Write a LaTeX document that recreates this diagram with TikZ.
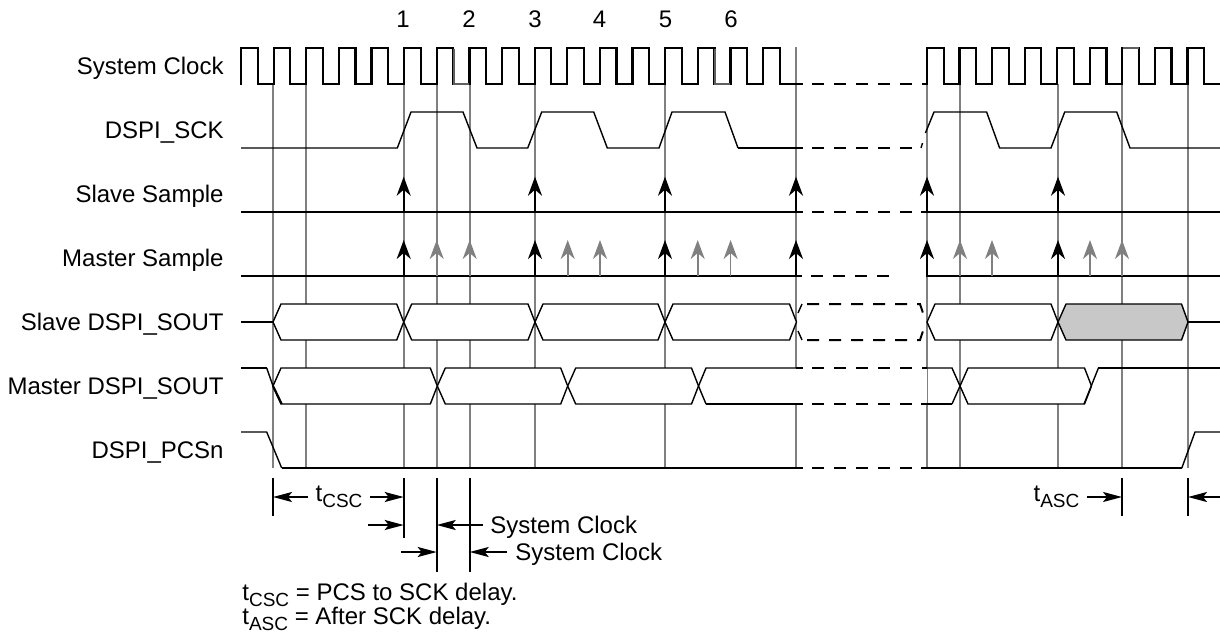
\documentclass[tikz,border=0pt]{standalone}
\usepackage{fontspec}
\setmainfont{Liberation Sans}
\usetikzlibrary{arrows.meta,positioning}
\newcommand{\tsub}[1]{t\raisebox{-3pt}{\fontsize{9.5}{9.5}\selectfont #1}}
\definecolor{gridgray}{RGB}{128,128,128}
\definecolor{edgegray}{RGB}{95,95,95}
\definecolor{hexgray}{RGB}{200,200,200}

\begin{document}
\begin{tikzpicture}[
    x=0.5pt, y=-0.5pt,
    font=\fontsize{12}{14}\selectfont,
    wave/.style={line width=1.1pt},
    wavethin/.style={line width=0.7pt},
    wavedash/.style={line width=1.1pt, dash pattern=on 6pt off 5pt},
    gridline/.style={draw=gridgray, line width=1pt},
    greypart/.style={draw=edgegray, line width=1.1pt},
    hexbox/.style={draw, fill=white, line width=0.7pt, line join=round},
    sigblack/.style={-{Stealth[length=9.5pt,width=7pt,inset=3pt]}, line width=1.1pt},
    siggray/.style={-{Stealth[length=9.5pt,width=7pt,inset=3pt]}, draw=gridgray, fill=gridgray, line width=0.8pt},
    tickline/.style={line width=1pt},
    dimarrow/.style={-{Stealth[length=9.5pt,width=5pt,inset=2pt]}, line width=1pt},
    lbl/.style={anchor=base east, inner sep=0pt},
    num/.style={anchor=base, inner sep=0pt},
    txt/.style={anchor=base west, inner sep=0pt},
    dimtxt/.style={inner sep=3.5pt}
]
\useasboundingbox (0,0) rectangle (1220,633);

\foreach \x in {273,306,403.7,436.7,469.7,535,665,960,1058,1188}
  \draw[gridline] (\x,84) -- (\x,468);
\draw[gridline] (796,47) -- (796,468);
\draw[gridline] (927,47) -- (927,468);
\draw[gridline] (1122,47) -- (1122,468);

\node[lbl] (lclk) at (224,74) {System Clock};
\node[lbl] (lsck) at (224,138) {DSPI\_SCK};
\node[lbl] (lss) at (224,202) {Slave Sample};
\node[lbl] (lms) at (224,266) {Master Sample};
\node[lbl] (lso) at (224,330) {Slave DSPI\_SOUT};
\node[lbl] (lmo) at (224,394) {Master DSPI\_SOUT};
\node[lbl] (lpcs) at (224,458) {DSPI\_PCSn};

\foreach \i/\x in {1/403,2/469,3/535,4/599.5,5/665.5,6/731}
  \node[num] (n\i) at (\x,27) {\i};

\foreach \k in {0,...,16}
  \draw[wave] ({241+32.63*\k},84.5) -- ++(0,-36.5) -- ++(16.6,0) -- ++(0,36) -- ++(16.03,0);
\draw[wave] (796,84) -- (803,84);
\draw[wavedash] (812,84) -- (927,84);
\foreach \k in {0,...,8}
  \draw[wave] ({927+32.56*\k},84.5) -- ++(0,-36.5) -- ++(16.6,0) -- ++(0,36) -- ++(15.96,0);
\draw[greypart] (453.8,48.5) -- (453.8,84) -- (469,84);
\draw[greypart] (714.7,48.5) -- (714.7,84) -- (730,84);
\draw[greypart] (1122.5,48) -- (1139,48);

\draw[wavethin] (241,148) -- (397.3,148) -- (411,112) -- (463,112) -- (477,148) -- (527.7,148) -- (541.7,112) -- (593.7,112) -- (607.3,148) -- (659,148) -- (672,112) -- (725,112) -- (738,148);
\draw[wave] (738,148) -- (803,148);
\draw[wavedash] (812,148) -- (921,148);
\draw[wavethin] (921,148) -- (922.5,143);
\draw[wavethin] (925.4,133) -- (934,112) -- (986.6,112) -- (999.6,148) -- (1051,148) -- (1064.7,112) -- (1116.7,112) -- (1130,148) -- (1220,148);

\draw[wave] (241,212) -- (803,212);
\draw[wavedash] (812,212) -- (921,212);
\draw[wave] (921,212) -- (1220,212);
\foreach \x in {403.7,535,665,796,927,1058}
  \draw[sigblack] (\x,212) -- (\x,176.7);

\draw[wave] (241,276) -- (802,276);
\draw[wavedash] (811,276) -- (896,276);
\draw[wave] (926.5,276) -- (1220,276);
\foreach \x in {403.7,535,665,796,927,1058}
  \draw[sigblack] (\x,276.5) -- (\x,240);
\foreach \x in {436.7,469.7,567.7,600,697.7,730.6,960,992,1090,1122}
  \draw[siggray] (\x,276) -- (\x,240);

\draw[wave] (241,322) -- (273,322);
\foreach \a/\b in {273/403.7,403.7/535,535/665,665/796.5,927/1058}
  \draw[hexbox] (\a,322) -- (\a+8,304) -- (\b-7,304) -- (\b,322) -- (\b-7,340) -- (\a+8,340) -- cycle;
\fill[white] (798,322) -- (804,304) -- (920,304) -- (926,322) -- (920,340) -- (804,340) -- cycle;
\draw[line width=1pt, dash pattern=on 6pt off 5pt] (807,304) -- (920,304) -- (926,322);
\draw[line width=1pt, dash pattern=on 6pt off 5pt] (807,340) -- (920,340) -- (926,322);
\draw[wavethin] (802,304) -- (798,313);
\draw[wavethin] (802,340) -- (798,331);
\draw[hexbox, fill=hexgray] (1058,322) -- (1066,304) -- (1181.5,304) -- (1188,322) -- (1181.5,340) -- (1066,340) -- cycle;
\draw[wave] (1188,322) -- (1220,322);

\fill[white] (698,368) rectangle (952,404);
\draw[gridgray, line width=0.2pt] (927,368) -- (927,404);
\draw[wave] (241,368) -- (266.7,368);
\draw[wavethin] (266.7,368) -- (273,386);
\foreach \a/\b in {273/437.3,437.3/567.7,567.7/698.5,960/1091.5}
  \draw[hexbox] (\a,386) -- (\a+8,368) -- (\b-7,368) -- (\b,386) -- (\b-7,404) -- (\a+8,404) -- cycle;
\draw[wave] (273,386) -- (281.7,404);
\draw[wavethin] (698.5,386) -- (706,368) -- (796,368);
\draw[wave] (796,368) -- (803,368);
\draw[wavedash] (812,368) -- (927,368);
\draw[wavethin] (927,368) -- (952,368) -- (960,386);
\draw[wavethin] (698.5,386) -- (706,404);
\draw[wave] (706,404) -- (803,404);
\draw[wavedash] (812,404) -- (921,404);
\draw[wave] (921,404) -- (952,404);
\draw[wavethin] (952,404) -- (960,386);
\draw[wavethin] (1084,404) -- (1098.4,368);
\draw[wave] (1098,368) -- (1220,368);

\draw[wavethin] (241,432) -- (266.7,432) -- (281.7,468);
\draw[wave] (281.7,468) -- (803,468);
\draw[wavedash] (812,468) -- (921,468);
\draw[wave] (921,468) -- (1181.8,468);
\draw[wavethin] (1181.8,468) -- (1195,432) -- (1220,432);

\foreach \x/\y in {273/516,403.7/538,436.7/572,469.7/572,1122/516,1188/516}
  \draw[tickline] (\x,478) -- (\x,\y);

\node[dimtxt] (tcsc) at (339,497) {\tsub{CSC}};
\coordinate (csca) at (273,497);
\coordinate (cscb) at (403.7,497);
\draw[dimarrow] (tcsc.west) -- (csca);
\draw[dimarrow] (tcsc.east) -- (cscb);

\node[txt] (sysa) at (490,533) {System Clock};
\coordinate (sysal) at (368,525);
\coordinate (sysaa) at (403.7,525);
\coordinate (sysab) at (436.7,525);
\coordinate (sysac) at (483,525);
\draw[dimarrow] (sysal) -- (sysaa);
\draw[dimarrow] (sysac) -- (sysab);

\node[txt] (sysb) at (515,560) {System Clock};
\coordinate (sysbl) at (401,552);
\coordinate (sysba) at (436.7,552);
\coordinate (sysbb) at (469.7,552);
\coordinate (sysbc) at (507,552);
\draw[dimarrow] (sysbl) -- (sysba);
\draw[dimarrow] (sysbc) -- (sysbb);

\node[dimtxt] (tasc) at (1056.5,497) {\tsub{ASC}};
\coordinate (asca) at (1122,497);
\coordinate (ascb) at (1188,497);
\coordinate (ascc) at (1220,497);
\draw[dimarrow] (tasc.east) -- (asca);
\draw[dimarrow] (ascc) -- (ascb);

\node[txt] (ncsc) at (242,600) {\tsub{CSC} = PCS to SCK delay.};
\node[txt] (nasc) at (242,624) {\tsub{ASC} = After SCK delay.};
\end{tikzpicture}
\end{document}
